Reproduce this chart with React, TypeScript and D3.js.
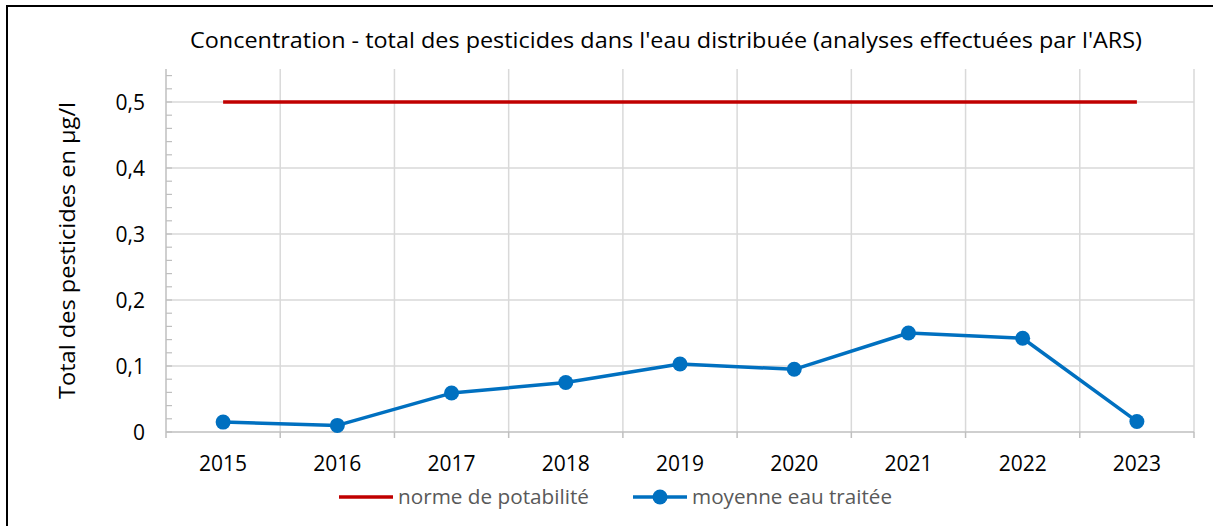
import React from 'react';
import * as d3 from 'd3';

// chart data
const years = ['2015', '2016', '2017', '2018', '2019', '2020', '2021', '2022', '2023'];
const moyenneEauTraitee = [0.015, 0.01, 0.059, 0.075, 0.103, 0.095, 0.15, 0.142, 0.016];
const normePotabilite = [0.5, 0.5, 0.5, 0.5, 0.5, 0.5, 0.5, 0.5, 0.5];
const yTicks = [0, 0.1, 0.2, 0.3, 0.4, 0.5];
const yTickLabels = ['0', '0,1', '0,2', '0,3', '0,4', '0,5'];

const title = "Concentration - total des pesticides dans l'eau distribuée (analyses effectuées par l'ARS)";
const yTitle = 'Total des pesticides en µg/l';

const W = 1213;
const H = 526;
const left = 166, right = 1194, top = 69, bottom = 432;
const font = '"Open Sans", Lato, sans-serif';

const App = () => {
  const x = d3.scaleBand().domain(years).range([left, right]);
  const y = d3.scaleLinear().domain([0, 0.55]).range([bottom, top]);
  const cx = (d: string) => (x(d) as number) + x.bandwidth() / 2;

  const line = d3.line<number>()
    .x((v, i) => cx(years[i]))
    .y(v => y(v));

  const minor = d3.range(0, 0.56, 0.02).filter(v => v <= 0.55);
  const bounds = years.map(d => x(d) as number).concat([right]);

  return (
    <svg width={W} height={H} style={{ position: 'absolute', left: 0, top: 0, background: '#fff' }}>
      <rect x={7} y={6} width={1400} height={700} fill="#fff" stroke="#000" strokeWidth={2} />

      <text x={666} y={48} textAnchor="middle" fontFamily={font} fontSize={21} textLength={952} lengthAdjust="spacingAndGlyphs" fill="#000">{title}</text>

      {/* grid */}
      {yTicks.filter(v => v > 0).map(v => (
        <line key={'h' + v} x1={left} x2={right} y1={y(v)} y2={y(v)} stroke="#d9d9d9" strokeWidth={1.5} />
      ))}
      {bounds.slice(1).map((b, i) => (
        <line key={'v' + i} x1={b} x2={b} y1={top} y2={bottom} stroke="#d9d9d9" strokeWidth={1.5} />
      ))}

      {/* y axis */}
      <line x1={left} x2={left} y1={top} y2={bottom} stroke="#bfbfbf" strokeWidth={1.5} />
      {minor.map((v, i) => (
        <line key={'m' + i} x1={left} x2={left + 6} y1={y(v)} y2={y(v)} stroke="#bfbfbf" strokeWidth={1.2} />
      ))}
      {yTicks.map((v, i) => (
        <text key={'yl' + i} x={145} y={y(v)} dy="0.36em" textAnchor="end" fontFamily={font} fontSize={21} fill="#000">{yTickLabels[i]}</text>
      ))}
      <text transform={`translate(75, ${(top + bottom) / 2}) rotate(-90)`} textAnchor="middle" fontFamily={font} fontSize={22} textLength={297} lengthAdjust="spacingAndGlyphs" fill="#000">{yTitle}</text>

      {/* x axis */}
      <line x1={left} x2={right} y1={bottom} y2={bottom} stroke="#bfbfbf" strokeWidth={1.5} />
      {bounds.map((b, i) => (
        <line key={'xt' + i} x1={b} x2={b} y1={bottom} y2={bottom + 6} stroke="#bfbfbf" strokeWidth={1.5} />
      ))}
      {years.map(d => (
        <text key={'xl' + d} x={cx(d)} y={471} textAnchor="middle" fontFamily={font} fontSize={21} fill="#000">{d}</text>
      ))}

      {/* series */}
      <line x1={cx(years[0])} x2={cx(years[years.length - 1])} y1={y(normePotabilite[0])} y2={y(normePotabilite[0])} stroke="#c00000" strokeWidth={3.5} />
      <path d={line(moyenneEauTraitee) || ''} fill="none" stroke="#0070c0" strokeWidth={3.5} strokeLinejoin="round" />
      {moyenneEauTraitee.map((v, i) => (
        <circle key={'p' + i} cx={cx(years[i])} cy={y(v)} r={7.5} fill="#0070c0" />
      ))}

      {/* legend */}
      <line x1={339} x2={393} y1={497} y2={497} stroke="#c00000" strokeWidth={3.5} />
      <text x={398} y={504} fontFamily={font} fontSize={20} textLength={191} lengthAdjust="spacingAndGlyphs" fill="#595959">norme de potabilité</text>
      <line x1={633} x2={687} y1={497} y2={497} stroke="#0070c0" strokeWidth={3.5} />
      <circle cx={660} cy={497} r={7.5} fill="#0070c0" />
      <text x={692} y={504} fontFamily={font} fontSize={20} textLength={200} lengthAdjust="spacingAndGlyphs" fill="#595959">moyenne eau traitée</text>
    </svg>
  );
};

export default App;
